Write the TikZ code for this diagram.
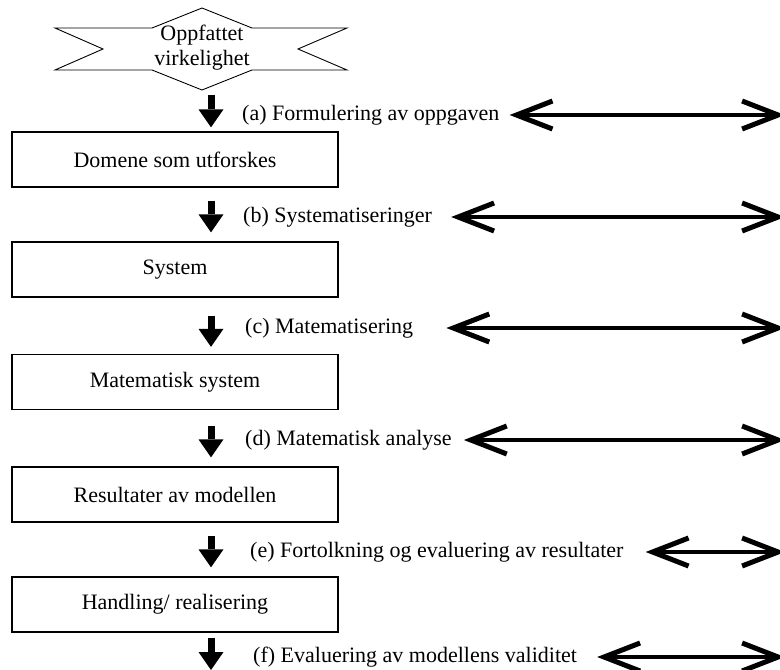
\documentclass[tikz,border=0pt]{standalone}
\usepackage{fontspec}
\setmainfont{Liberation Serif}
\usetikzlibrary{arrows.meta, calc}
\tikzset{
  txt/.style={font=\fontsize{22}{25}\selectfont},
  fase/.style={rectangle, draw, line width=1.3pt, txt,
               minimum width=326pt, minimum height=55pt, align=center},
  lbl/.style={txt, anchor=west, inner sep=0pt},
  blkarr/.style={line width=7pt, -{Triangle[length=18pt, width=25pt, line width=0pt]}},
  dblarr/.style={line width=4pt,
    {Straight Barb[length=36pt, width=28pt, line width=5pt]}-{Straight Barb[length=36pt, width=28pt, line width=5pt]}},
}
\begin{document}
\begin{tikzpicture}[x=1pt, y=-1pt]

  \useasboundingbox (0,0) rectangle (780,670);

  \coordinate (col) at (211,0);
  \coordinate (rend) at (785,0);

  % perceived reality
  \node[txt, align=center, inner sep=0pt] (real) at (202,48) {Oppfattet\\virkelighet};
  \draw[line width=0.9pt] (55,28) -- (152,28) -- (202,8) -- (252,28) -- (347,28) -- (298,49)
    -- (347,70) -- (252,70) -- (202,90) -- (152,70) -- (55,70) -- (103,49) -- cycle;
  \coordinate (realbot) at (202,90);

  % steps
  \node[fase] (dom) at (175,159.5) {Domene som utforskes};
  \node[fase] (sys) at (175,269.5) {System};
  \node[fase] (mat) at (175,382)   {Matematisk system};
  \node[fase] (res) at (175,494.5) {Resultater av modellen};
  \node[fase] (han) at (175,604.5) {Handling/ realisering};
  \coordinate (fend) at (211,670);

  \draw[blkarr, shorten <=5pt, shorten >=4pt] (realbot -| col) -- (dom.north -| col);
  \draw[blkarr, shorten <=13pt, shorten >=9pt] (dom.south -| col) -- (sys.north -| col);
  \draw[blkarr, shorten <=18pt, shorten >=7pt] (sys.south -| col) -- (mat.north -| col);
  \draw[blkarr, shorten <=16pt, shorten >=9pt] (mat.south -| col) -- (res.north -| col);
  \draw[blkarr, shorten <=13pt, shorten >=9pt] (res.south -| col) -- (han.north -| col);
  \draw[blkarr, shorten <=5pt] (han.south -| col) -- (fend);

  % labels
  \node[lbl] (la) at (242,115) {(a) Formulering av oppgaven};
  \node[lbl] (lb) at (243,217) {(b) Systematiseringer};
  \node[lbl] (lc) at (245,328) {(c) Matematisering};
  \node[lbl] (ld) at (245,440) {(d) Matematisk analyse};
  \node[lbl] (le) at (250,552) {(e) Fortolkning og evaluering av resultater};
  \node[lbl] (lf) at (253,657) {(f) Evaluering av modellens validitet};

  \draw[dblarr] ([xshift=10pt]la.east) -- (la.east -| rend);
  \draw[dblarr] ([xshift=19pt]lb.east) -- (lb.east -| rend);
  \draw[dblarr] ([xshift=33pt]lc.east) -- (lc.east -| rend);
  \draw[dblarr] ([xshift=12pt]ld.east) -- (ld.east -| rend);
  \draw[dblarr] ([xshift=22pt]le.east) -- (le.east -| rend);
  \draw[dblarr] ([xshift=20pt]lf.east) -- (lf.east -| rend);

\end{tikzpicture}
\end{document}
